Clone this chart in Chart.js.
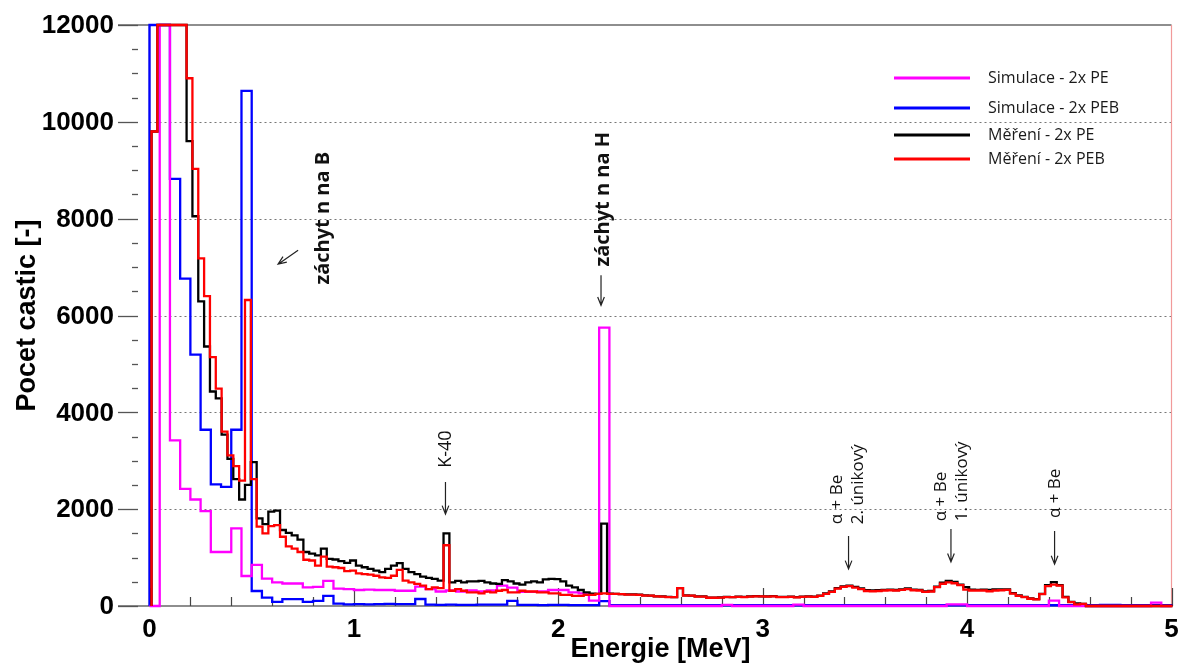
<!DOCTYPE html>
<html>
<head>
<meta charset="utf-8">
<script src="https://cdn.jsdelivr.net/npm/chart.js@4.4.1/dist/chart.umd.min.js"></script>
<style>
html,body{margin:0;padding:0;background:#ffffff;}
#wrap{width:1181px;height:664px;position:relative;overflow:hidden;}
</style>
</head>
<body>
<div id="wrap"><canvas id="c" width="1181" height="664"></canvas></div>
<script>
// ---------------- data ----------------
const SIM_E0 = 0.0;          // MeV, first simulation bin edge
const SIM_W = 0.05;          // MeV, simulation bin width
const MEAS_E0 = 0.01;        // MeV, first measurement bin edge
const MEAS_W = 5 / 175;      // MeV, measurement bin width

const simPE = [
  0, 13000, 3420, 2420, 2200, 1960, 1115, 1115, 1605, 620,
  850, 565, 490, 465, 465, 385, 395, 520, 360, 350,
  330, 340, 330, 330, 315, 315, 400, 350, 300, 320,
  300, 320, 300, 320, 420, 380, 290, 290, 300, 330,
  330, 280, 260, 110, 5750, 0, 0, 0, 0, 0,
  0, 0, 0, 0, 0, 0, 25, 0, 0, 0,
  0, 0, 0, 30, 0, 0, 0, 0, 0, 0,
  0, 0, 0, 0, 0, 0, 0, 0, 35, 35,
  0, 0, 0, 0, 0, 0, 0, 0, 110, 0,
  0, 0, 0, 0, 0, 0, 0, 0, 70, 0
];
const simPEB = [
  13000, 13000, 8820, 6760, 5190, 3640, 2510, 2460, 3640, 10640,
  310, 175, 85, 140, 140, 85, 105, 210, 50, 35,
  40, 35, 40, 45, 40, 40, 145, 30, 25, 30,
  25, 25, 30, 30, 30, 105, 25, 25, 20, 25,
  25, 20, 20, 20, 100, 20, 20, 20, 15, 15,
  15, 15, 20, 20, 15, 15, 15, 20, 20, 15,
  15, 15, 15, 15, 15, 20, 20, 15, 15, 15,
  15, 15, 15, 15, 15, 15, 15, 15, 15, 15,
  15, 15, 15, 15, 15, 15, 15, 15, 15, 15,
  15, 15, 15, 25, 25, 15, 15, 15, 15, 15
];
const measPE = [
  9800, 13000, 13000, 13000, 13000, 13000, 9600, 8050, 6290, 5360,
  4430, 4290, 3540, 3040, 2620, 2200, 2500, 2970, 1810, 1690,
  1950, 1970, 1570, 1510, 1460, 1370, 1115, 1080, 1045, 1185,
  975, 960, 925, 890, 940, 835, 800, 765, 730, 700,
  765, 835, 885, 765, 700, 660, 605, 580, 560, 525,
  1500, 490, 520, 490, 510, 510, 520, 490, 465, 455,
  535, 510, 465, 440, 490, 510, 490, 550, 560, 555,
  510, 420, 385, 330, 280, 255, 250, 1700, 255, 250,
  245, 240, 240, 235, 220, 215, 200, 200, 190, 185,
  370, 220, 215, 200, 200, 175, 170, 180, 190, 185,
  195, 190, 200, 205, 200, 200, 205, 190, 190, 195,
  185, 195, 200, 195, 215, 260, 300, 370, 405, 420,
  395, 365, 325, 320, 325, 335, 340, 330, 345, 365,
  340, 335, 300, 310, 400, 480, 520, 500, 440, 390,
  340, 335, 340, 330, 345, 345, 345, 265, 220, 190,
  155, 140, 250, 430, 495, 430, 190, 85, 55, 45,
  0, 0, 0, 0, 0, 0, 0, 0, 0, 0,
  0, 0, 0, 0, 0
];
const measPEB = [
  9800, 13000, 13000, 13000, 13000, 13000, 10900, 9030, 7180, 6400,
  5140, 4490, 3600, 3110, 2890, 2590, 6320, 2620, 1640, 1500,
  1650, 1670, 1430, 1230, 1185, 1115, 955, 940, 835, 1020,
  815, 800, 785, 720, 730, 675, 660, 650, 625, 590,
  580, 625, 745, 525, 490, 455, 420, 350, 385, 370,
  1255, 315, 350, 315, 280, 280, 260, 295, 280, 315,
  330, 280, 280, 315, 300, 300, 280, 280, 260, 260,
  230, 230, 210, 210, 230, 230, 250, 260, 250, 250,
  245, 235, 235, 230, 215, 215, 200, 195, 185, 185,
  370, 215, 215, 195, 195, 170, 170, 175, 185, 185,
  190, 185, 195, 200, 200, 195, 200, 185, 185, 190,
  180, 190, 195, 190, 210, 250, 290, 360, 395, 410,
  380, 350, 310, 305, 310, 320, 325, 320, 335, 350,
  325, 320, 290, 300, 390, 460, 490, 470, 430, 340,
  320, 320, 320, 305, 320, 325, 335, 255, 210, 185,
  150, 135, 245, 410, 440, 420, 180, 80, 35, 45,
  0, 0, 0, 0, 0, 0, 0, 0, 0, 0,
  0, 0, 0, 0, 0
];

const seriesLabels = ['Simulace - 2x PE', 'Simulace - 2x PEB', 'Měření - 2x PE', 'Měření - 2x PEB'];
const seriesColors = ['#ff00ff', '#0000ff', '#000000', '#ff0000'];

const xTickValues = [0, 1, 2, 3, 4, 5];
const xMinorStep = 0.2;
const yTickValues = [0, 2000, 4000, 6000, 8000, 10000, 12000];
const yMinorStep = 500;
const gridValues = [2000, 4000, 6000, 8000, 10000];

const xTitle = 'Energie [MeV]';
const yTitle = 'Pocet castic [-]';

// annotation texts (rotated) positioned in data units (MeV, counts)
const notes = [
  {lines: ['záchyt n na B'], e: 0.849, c: 8010, bold: true, size: 20, align: 'center'},
  {lines: ['záchyt n na H'], e: 2.219, c: 8400, bold: true, size: 20, align: 'center'},
  {lines: ['K-40'], e: 1.451, c: 3240, bold: false, size: 18, align: 'center'},
  {lines: ['α + Be', '2. únikový'], e: 3.365, c: 1690, bold: false, size: 17, align: 'left'},
  {lines: ['α + Be', '1. únikový'], e: 3.873, c: 1750, bold: false, size: 17, align: 'left'},
  {lines: ['α + Be'], e: 4.430, c: 1815, bold: false, size: 17, align: 'left'}
];
// arrows: from (e1,c1) to (e2,c2)
const arrows = [
  {e1: 0.727, c1: 7350, e2: 0.629, c2: 7060},
  {e1: 2.209, c1: 6830, e2: 2.209, c2: 6210},
  {e1: 1.448, c1: 2560, e2: 1.448, c2: 1900},
  {e1: 3.420, c1: 1445, e2: 3.420, c2: 765},
  {e1: 3.921, c1: 1590, e2: 3.921, c2: 910},
  {e1: 4.428, c1: 1550, e2: 4.428, c2: 865}
];

// ---------------- build ----------------
const X_MAX = 5, Y_MAX = 12000;
function histPoints(vals, e0, w) {
  const pts = [{x: e0, y: 0}];
  vals.forEach((v, i) => pts.push({x: e0 + i * w, y: Math.min(v, Y_MAX)}));
  const end = e0 + vals.length * w;
  pts.push({x: end, y: Math.min(vals[vals.length - 1], Y_MAX)});
  pts.push({x: end, y: 0});
  return pts;
}
function ds(label, color, pts, order) {
  return {
    label, data: pts, borderColor: color, backgroundColor: color,
    borderWidth: 2.3, pointRadius: 0, stepped: true, fill: false,
    tension: 0, order, clip: {left: 2, top: 2, right: 1, bottom: 3}
  };
}
const datasets = [
  ds(seriesLabels[0], seriesColors[0], histPoints(simPE, SIM_E0, SIM_W), 2),
  ds(seriesLabels[1], seriesColors[1], histPoints(simPEB, SIM_E0, SIM_W), 3),
  ds(seriesLabels[2], seriesColors[2], histPoints(measPE, MEAS_E0, MEAS_W), 1),
  ds(seriesLabels[3], seriesColors[3], histPoints(measPEB, MEAS_E0, MEAS_W), 0)
];

const PLOT_LEFT = 149.5, PLOT_RIGHT = 1171.5, PLOT_TOP = 25, PLOT_BOTTOM = 606;
const CW = 1181, CH = 664;

function arrow(ctx, x1, y1, x2, y2) {
  const ang = Math.atan2(y2 - y1, x2 - x1);
  const L = 9, h = 0.38;
  ctx.beginPath();
  ctx.moveTo(x1, y1); ctx.lineTo(x2, y2);
  ctx.moveTo(x2 - L * Math.cos(ang - h), y2 - L * Math.sin(ang - h));
  ctx.lineTo(x2, y2);
  ctx.lineTo(x2 - L * Math.cos(ang + h), y2 - L * Math.sin(ang + h));
  ctx.stroke();
}

const decor = {
  id: 'decor',
  beforeDatasetsDraw(chart) {
    const {ctx, chartArea: a, scales: {x, y}} = chart;
    ctx.save();
    // dotted grid
    ctx.strokeStyle = '#777'; ctx.lineWidth = 1; ctx.setLineDash([2, 3]);
    gridValues.forEach(v => {
      const py = Math.round(y.getPixelForValue(v)) + 0.5;
      ctx.beginPath(); ctx.moveTo(a.left, py); ctx.lineTo(a.right, py); ctx.stroke();
    });
    ctx.setLineDash([]);
    // frame
    ctx.strokeStyle = '#6a6a6a'; ctx.lineWidth = 1.5;
    ctx.beginPath();
    ctx.moveTo(118, a.top); ctx.lineTo(a.right, a.top);
    ctx.moveTo(118, a.bottom); ctx.lineTo(a.right, a.bottom);
    ctx.moveTo(a.left, a.top); ctx.lineTo(a.left, a.bottom);
    ctx.stroke();
    ctx.strokeStyle = '#f19a9a'; ctx.lineWidth = 1.2;
    ctx.beginPath(); ctx.moveTo(a.right, a.top); ctx.lineTo(a.right, a.bottom); ctx.stroke();
    // y ticks (outside, left)
    ctx.strokeStyle = '#555'; ctx.lineWidth = 1.3;
    for (let v = 0; v <= Y_MAX + 1; v += yMinorStep) {
      const py = Math.round(y.getPixelForValue(v)) + 0.5;
      const major = yTickValues.includes(v);
      ctx.beginPath(); ctx.moveTo(major ? 118 : 132, py); ctx.lineTo(138, py); ctx.stroke();
    }
    // x ticks (inside, bottom)
    ctx.strokeStyle = '#444'; ctx.lineWidth = 1.2;
    for (let i = 0; i <= Math.round(X_MAX / xMinorStep); i++) {
      const v = i * xMinorStep;
      const px = Math.round(x.getPixelForValue(v)) + 0.5;
      const major = Math.abs(v - Math.round(v)) < 1e-6;
      ctx.beginPath(); ctx.moveTo(px, a.bottom); ctx.lineTo(px, a.bottom - (major ? 18 : 9)); ctx.stroke();
    }
    ctx.restore();
  },
  afterDatasetsDraw(chart) {
    const {ctx, chartArea: a, scales: {x, y}} = chart;
    ctx.save();
    // annotations
    ctx.fillStyle = '#111';
    notes.forEach(n => {
      const px = x.getPixelForValue(n.e), py = y.getPixelForValue(n.c);
      ctx.save();
      ctx.translate(px, py);
      ctx.rotate(-Math.PI / 2);
      ctx.font = (n.bold ? 'bold ' : '') + n.size + 'px "Open Sans"';
      ctx.textAlign = n.align;
      ctx.textBaseline = 'middle';
      n.lines.forEach((t, i) => ctx.fillText(t, 0, i * n.size * 1.25));
      ctx.restore();
    });
    ctx.strokeStyle = '#222'; ctx.lineWidth = 1.2;
    arrows.forEach(r => arrow(ctx, x.getPixelForValue(r.e1), y.getPixelForValue(r.c1),
                                   x.getPixelForValue(r.e2), y.getPixelForValue(r.c2)));
    // legend
    const rows = [78, 108, 135, 159];
    ctx.font = '16px "Open Sans"'; ctx.textAlign = 'left'; ctx.textBaseline = 'middle';
    seriesLabels.forEach((lab, i) => {
      ctx.strokeStyle = seriesColors[i]; ctx.lineWidth = 3;
      ctx.beginPath(); ctx.moveTo(894, rows[i]); ctx.lineTo(970, rows[i]); ctx.stroke();
      ctx.fillStyle = '#1a1a1a';
      ctx.fillText(lab, 988, rows[i]);
    });
    ctx.restore();
  },
  afterDraw(chart) {
    const {ctx, chartArea: a, scales: {x, y}} = chart;
    ctx.save();
    ctx.fillStyle = '#000';
    // tick labels
    ctx.font = 'bold 26px "Liberation Sans"';
    ctx.textBaseline = 'middle';
    ctx.textAlign = 'right';
    yTickValues.forEach(v => ctx.fillText(String(v), 114, y.getPixelForValue(v) + 1));
    ctx.textAlign = 'center';
    xTickValues.forEach(v => ctx.fillText(String(v), x.getPixelForValue(v), 630));
    // axis titles
    ctx.font = 'bold 27px "Liberation Sans"';
    ctx.fillText(xTitle, (a.left + a.right) / 2, 650);
    ctx.translate(28, (a.top + a.bottom) / 2);
    ctx.rotate(-Math.PI / 2);
    ctx.fillText(yTitle, 0, 0);
    ctx.restore();
  }
};

new Chart(document.getElementById('c'), {
  type: 'line',
  data: {datasets},
  options: {
    responsive: false, animation: false, devicePixelRatio: 1,
    layout: {padding: {left: 0, top: PLOT_TOP, right: CW - PLOT_RIGHT, bottom: 0}},
    plugins: {legend: {display: false}, tooltip: {enabled: false}},
    scales: {
      x: {
        type: 'linear', min: 0, max: X_MAX,
        afterFit: s => { s.height = CH - PLOT_BOTTOM; },
        grid: {display: false, drawTicks: false},
        border: {display: false},
        ticks: {display: false, stepSize: 1}
      },
      y: {
        type: 'linear', min: 0, max: Y_MAX,
        afterFit: s => { s.width = PLOT_LEFT; },
        grid: {display: false, drawTicks: false},
        border: {display: false},
        ticks: {display: false, stepSize: 2000}
      }
    }
  },
  plugins: [decor]
});
</script>
</body>
</html>
